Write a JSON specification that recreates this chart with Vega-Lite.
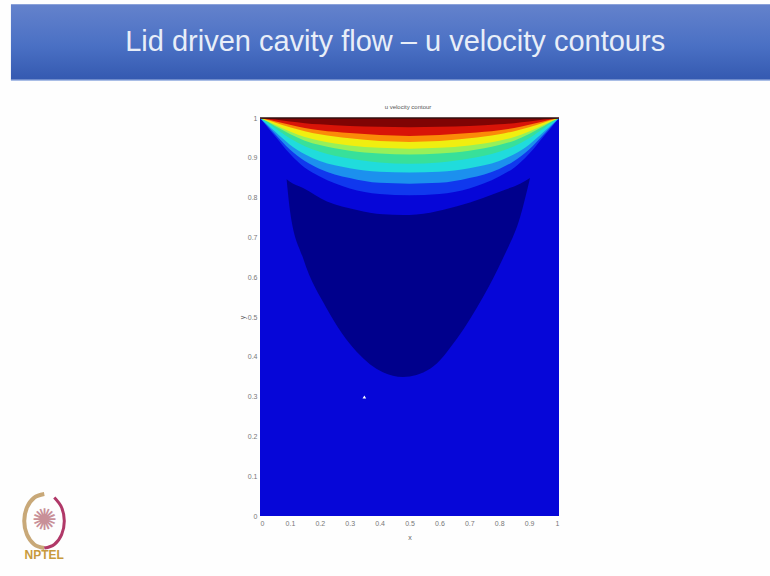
{
"$schema":"https://vega.github.io/schema/vega-lite/v6.json",
"width":770,"height":576,"padding":0,"autosize":{"type":"none"},"background":"#fefefe",
"config":{"view":{"stroke":null}},
"datasets":{
"banner":[{"x":-0.833,"x2":1.72,"y":1.286,"y2":1.095}],
"bannerEdge":[{"x":-0.833,"y":1.095},{"x":1.72,"y":1.095}],
"heading":[{"x":0.452,"y":1.19,"label":"Lid driven cavity flow – u velocity contours"}],
"plotTitle":[{"x":0.495,"y":1.027,"label":"u velocity contour"}],
"contours":[
{"x":0,"c0":0,"c1":1,"c2":1,"c3":1,"c4":1,"c5":1,"c6":1,"c7":1,"c8":1,"c9":1},
{"x":0.025,"c0":0,"c1":0.977,"c2":0.98,"c3":0.983,"c4":0.988,"c5":0.991,"c6":0.992,"c7":0.995,"c8":0.996,"c9":0.998},
{"x":0.05,"c0":0,"c1":0.955,"c2":0.96,"c3":0.966,"c4":0.975,"c5":0.98,"c6":0.983,"c7":0.989,"c8":0.992,"c9":0.996},
{"x":0.1,"c0":0,"c1":0.91,"c2":0.921,"c3":0.933,"c4":0.949,"c5":0.96,"c6":0.966,"c7":0.977,"c8":0.983,"c9":0.991},
{"x":0.15,"c0":0,"c1":0.875,"c2":0.892,"c3":0.909,"c4":0.929,"c5":0.943,"c6":0.952,"c7":0.967,"c8":0.975,"c9":0.987},
{"x":0.2,"c0":0,"c1":0.853,"c2":0.872,"c3":0.892,"c4":0.915,"c5":0.932,"c6":0.943,"c7":0.959,"c8":0.969,"c9":0.984},
{"x":0.3,"c0":0,"c1":0.823,"c2":0.849,"c3":0.874,"c4":0.898,"c5":0.918,"c6":0.931,"c7":0.949,"c8":0.962,"c9":0.98},
{"x":0.4,"c0":0,"c1":0.809,"c2":0.837,"c3":0.865,"c4":0.888,"c5":0.911,"c6":0.925,"c7":0.942,"c8":0.957,"c9":0.978},
{"x":0.5,"c0":0,"c1":0.806,"c2":0.835,"c3":0.863,"c4":0.885,"c5":0.908,"c6":0.923,"c7":0.94,"c8":0.955,"c9":0.977},
{"x":0.6,"c0":0,"c1":0.809,"c2":0.837,"c3":0.865,"c4":0.888,"c5":0.911,"c6":0.925,"c7":0.942,"c8":0.957,"c9":0.978},
{"x":0.7,"c0":0,"c1":0.823,"c2":0.849,"c3":0.874,"c4":0.898,"c5":0.918,"c6":0.931,"c7":0.949,"c8":0.962,"c9":0.98},
{"x":0.8,"c0":0,"c1":0.853,"c2":0.872,"c3":0.892,"c4":0.915,"c5":0.932,"c6":0.943,"c7":0.959,"c8":0.969,"c9":0.984},
{"x":0.85,"c0":0,"c1":0.875,"c2":0.892,"c3":0.909,"c4":0.929,"c5":0.943,"c6":0.952,"c7":0.967,"c8":0.975,"c9":0.987},
{"x":0.9,"c0":0,"c1":0.91,"c2":0.921,"c3":0.933,"c4":0.949,"c5":0.96,"c6":0.966,"c7":0.977,"c8":0.983,"c9":0.991},
{"x":0.95,"c0":0,"c1":0.955,"c2":0.96,"c3":0.966,"c4":0.975,"c5":0.98,"c6":0.983,"c7":0.989,"c8":0.992,"c9":0.996},
{"x":0.975,"c0":0,"c1":0.977,"c2":0.98,"c3":0.983,"c4":0.988,"c5":0.991,"c6":0.992,"c7":0.995,"c8":0.996,"c9":0.998},
{"x":1,"c0":0,"c1":1,"c2":1,"c3":1,"c4":1,"c5":1,"c6":1,"c7":1,"c8":1,"c9":1}
],
"lowest":[
{"x":0.089,"y":0.846,"y2":0.846},{"x":0.1,"y":0.769,"y2":0.84},{"x":0.144,"y":0.648,"y2":0.824},{"x":0.224,"y":0.52,"y2":0.79},{"x":0.324,"y":0.412,"y2":0.769},{"x":0.411,"y":0.361,"y2":0.758},{"x":0.478,"y":0.349,"y2":0.756},{"x":0.569,"y":0.37,"y2":0.762},{"x":0.659,"y":0.446,"y2":0.778},{"x":0.746,"y":0.55,"y2":0.799},{"x":0.813,"y":0.648,"y2":0.818},{"x":0.87,"y":0.751,"y2":0.835},{"x":0.903,"y":0.849,"y2":0.849}
],
"lid":[{"x":0,"y":1},{"x":1,"y":1}],
"cursor":[{"x":0.349,"y":0.299}],
"logoLeft":[{"i":0,"x":-0.7215,"y":0.0554},{"i":1,"x":-0.755,"y":0.0463},{"i":2,"x":-0.7795,"y":0.0214},{"i":3,"x":-0.7885,"y":-0.0126},{"i":4,"x":-0.7795,"y":-0.0466},{"i":5,"x":-0.755,"y":-0.0715},{"i":6,"x":-0.7215,"y":-0.0806}],
"logoRight":[{"i":0,"x":-0.7215,"y":-0.0806},{"i":1,"x":-0.688,"y":-0.0715},{"i":2,"x":-0.6635,"y":-0.0466},{"i":3,"x":-0.6545,"y":-0.0126},{"i":4,"x":-0.6635,"y":0.0214},{"i":5,"x":-0.688,"y":0.0463}],
"logoStar":[{"x":-0.7215,"y":-0.0126,"label":"✺"}],
"logoText":[{"x":-0.7215,"y":-0.0975,"label":"NPTEL"}]
},
"encoding":{
"x":{"field":"x","type":"quantitative","title":"x","scale":{"domain":[0,1],"range":[260,559],"nice":false,"zero":false},
"axis":{"offset":-60,"values":[0,0.1,0.2,0.3,0.4,0.5,0.6,0.7,0.8,0.9,1],"labelExpr":"datum.value","grid":false,"domain":false,"ticks":false,"labelFontSize":7,"labelColor":"#777777","labelPadding":3,"labelFont":"Liberation Sans","titleFontSize":7,"titleColor":"#666666","titleFontWeight":"normal","titlePadding":7,"titleFont":"Liberation Sans"}},
"y":{"field":"y","type":"quantitative","title":"y","scale":{"domain":[0,1],"range":[516,118],"nice":false,"zero":false},
"axis":{"offset":-260,"values":[0,0.1,0.2,0.3,0.4,0.5,0.6,0.7,0.8,0.9,1],"labelExpr":"datum.value","grid":false,"domain":false,"ticks":false,"labelFontSize":7,"labelColor":"#777777","labelPadding":3,"labelFont":"Liberation Sans","titleFontSize":7,"titleColor":"#666666","titleFontWeight":"normal","titlePadding":2,"titleFont":"Liberation Sans"}}
},
"layer":[
{"data":{"name":"banner"},"mark":{"type":"rect","fill":{"x1":0,"y1":0,"x2":0,"y2":1,"gradient":"linear","stops":[{"offset":0,"color":"#6482cc"},{"offset":0.55,"color":"#4a70c4"},{"offset":1,"color":"#3459b0"}]}},"encoding":{"x2":{"field":"x2"},"y2":{"field":"y2"}}},
{"data":{"name":"bannerEdge"},"mark":{"type":"line","color":"#a9bde6","strokeWidth":1.5}},
{"data":{"name":"heading"},"mark":{"type":"text","font":"Liberation Sans","fontSize":29,"color":"#e8eef8","align":"center","baseline":"middle"},"encoding":{"text":{"field":"label"}}},
{"data":{"name":"plotTitle"},"mark":{"type":"text","font":"Liberation Sans","fontSize":6,"color":"#555555","align":"center","baseline":"middle"},"encoding":{"text":{"field":"label"}}},
{"data":{"name":"contours"},"transform":[{"fold":["c0","c1","c2","c3","c4","c5","c6","c7","c8","c9"],"as":["level","y"]}],
 "mark":{"type":"area","interpolate":"monotone"},
 "encoding":{"y2":{"datum":1},"color":{"field":"level","type":"nominal","legend":null,"scale":{"domain":["c0","c1","c2","c3","c4","c5","c6","c7","c8","c9"],"range":["#0606d8","#1038ee","#1c90ee","#20dcdc","#38e09a","#96f05a","#f0ee10","#fb8a08","#d81408","#800404"]}}}},
{"data":{"name":"lowest"},"mark":{"type":"area","interpolate":"monotone","color":"#00008c"},"encoding":{"y2":{"field":"y2"}}},
{"data":{"name":"lid"},"mark":{"type":"line","color":"#301010","strokeWidth":1.5}},
{"data":{"name":"cursor"},"mark":{"type":"point","shape":"triangle-up","filled":true,"color":"#ffffff","size":14,"opacity":1}},
{"data":{"name":"logoLeft"},"mark":{"type":"line","interpolate":"cardinal","color":"#c8a878","strokeWidth":4},"encoding":{"order":{"field":"i","type":"quantitative"}}},
{"data":{"name":"logoRight"},"mark":{"type":"line","interpolate":"cardinal","color":"#b03868","strokeWidth":3},"encoding":{"order":{"field":"i","type":"quantitative"}}},
{"data":{"name":"logoStar"},"mark":{"type":"text","font":"DejaVu Sans","fontSize":30,"color":"#c89098","align":"center","baseline":"middle"},"encoding":{"text":{"field":"label"}}},
{"data":{"name":"logoText"},"mark":{"type":"text","font":"Liberation Sans","fontWeight":"bold","fontSize":12,"color":"#c89a3c","align":"center","baseline":"middle"},"encoding":{"text":{"field":"label"}}}
]
}
